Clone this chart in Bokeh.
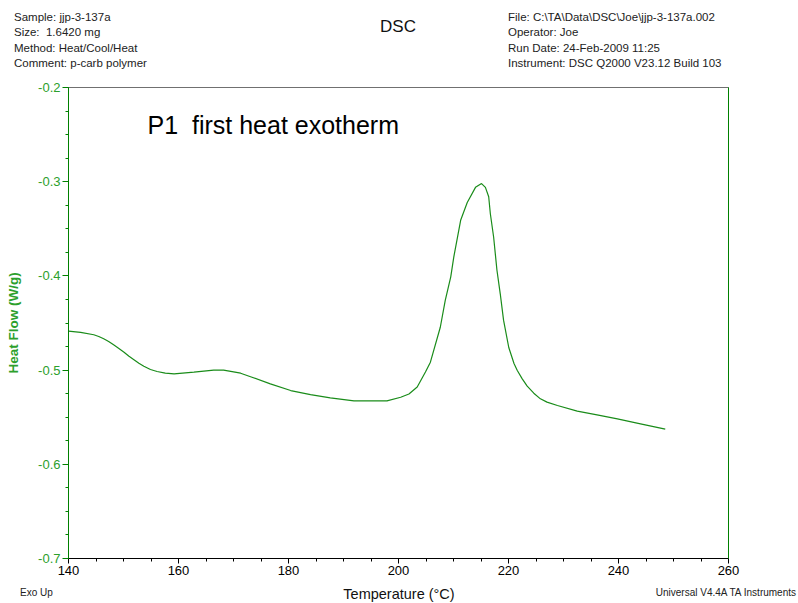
from bokeh.plotting import figure
from bokeh.models import (Range1d, LinearAxis, FixedTicker, PrintfTickFormatter, Label, Div)
from bokeh.layouts import column
from bokeh.embed import file_html
from bokeh.resources import INLINE

# ---- data ----
temperature = [140.0, 142.2, 144.6, 145.5, 146.4, 147.3, 148.2, 149.1, 150.1, 151.0,
               151.9, 152.8, 153.7, 154.9, 156.1, 157.6, 159.2, 162.8, 166.4, 168.2,
               171.3, 173.1, 176.7, 180.4, 184.0, 187.6, 191.9, 197.9, 200.4, 201.9,
               203.4, 204.9, 205.8, 207.6, 208.5, 209.5, 210.05, 211.3, 212.5, 214.0,
               215.1, 215.8, 216.4, 216.7, 217.3, 217.9, 218.5, 219.1, 220.05, 221.0,
               221.6, 222.5, 223.4, 224.6, 225.8, 227.0, 228.9, 232.5, 236.1, 239.8,
               244.0, 248.5]
heat_flow = [-0.4587, -0.4600, -0.4625, -0.4643, -0.4668, -0.4697, -0.4732, -0.4768, -0.4810, -0.4853,
             -0.4890, -0.4927, -0.4959, -0.4994, -0.5015, -0.5033, -0.5040, -0.5022, -0.5001, -0.5000,
             -0.5033, -0.5070, -0.5146, -0.5217, -0.5260, -0.5294, -0.5326, -0.5326, -0.5288, -0.5253,
             -0.5180, -0.5020, -0.4916, -0.4545, -0.4260, -0.4010, -0.3800, -0.3410, -0.3220, -0.3060,
             -0.3020, -0.3060, -0.3160, -0.3340, -0.3590, -0.3940, -0.4190, -0.4470, -0.4760, -0.4930,
             -0.5004, -0.5093, -0.5170, -0.5245, -0.5305, -0.5340, -0.5376, -0.5436, -0.5475, -0.5517,
             -0.5570, -0.5627]

x_major = [140, 160, 180, 200, 220, 240, 260]
x_minor = [140 + 5 * i for i in range(25)]
y_major = [-0.7, -0.6, -0.5, -0.4, -0.3, -0.2]
y_minor = [round(-0.7 + 0.025 * i, 3) for i in range(21)]

header_left = ["Sample: jjp-3-137a", "Size:&nbsp; 1.6420 mg", "Method: Heat/Cool/Heat",
               "Comment: p-carb polymer"]
header_right = ["File: C:\\TA\\Data\\DSC\\Joe\\jjp-3-137a.002", "Operator: Joe",
                "Run Date: 24-Feb-2009 11:25", "Instrument: DSC Q2000 V23.12 Build 103"]

FONT = "Liberation Sans"
GREEN = "#008000"
CURVE = "#1a8c1a"

# geometry (pixels)
W = 798
HEAD_H = 72
FOOT_H = 20
L, R = 68, 728
FRAME_TOP, FRAME_BOT = 87, 558
PLOT_H = 603 - HEAD_H - FOOT_H
X0, X1, Y0, Y1 = 140, 260, -0.7, -0.2

def sx(px):
    return X0 + (px - L) * (X1 - X0) / (R - L)

def sy(py):
    return Y1 - (py - FRAME_TOP) * (Y1 - Y0) / (FRAME_BOT - FRAME_TOP)

p = figure(width=W, height=PLOT_H, output_backend="svg", toolbar_location=None,
           x_range=Range1d(X0, X1), y_range=Range1d(Y0, Y1),
           min_border_left=L, min_border_right=W - R,
           min_border_top=FRAME_TOP - HEAD_H,
           min_border_bottom=(HEAD_H + PLOT_H) - FRAME_BOT,
           y_axis_label="Heat Flow (W/g)", margin=0)
p.outline_line_color = "#707070"
p.grid.visible = False
p.background_fill_color = "white"
p.border_fill_color = "white"

xa = p.xaxis[0]
xa.ticker = FixedTicker(ticks=x_major, minor_ticks=x_minor)
xa.axis_line_color = "black"
xa.major_tick_line_color = "black"
xa.minor_tick_line_color = "black"
xa.major_tick_out = 5
xa.major_tick_in = 0
xa.minor_tick_out = 3
xa.minor_tick_in = 0
xa.major_label_standoff = 2
xa.major_label_text_font = FONT
xa.major_label_text_font_size = "13px"
xa.major_label_text_color = "black"

ya = p.yaxis[0]
ya.ticker = FixedTicker(ticks=y_major, minor_ticks=y_minor)
ya.formatter = PrintfTickFormatter(format="%.1f")
ya.axis_line_color = GREEN
ya.major_tick_line_color = GREEN
ya.minor_tick_line_color = GREEN
ya.major_tick_out = 6
ya.major_tick_in = 0
ya.minor_tick_out = 3
ya.minor_tick_in = 0
ya.major_label_standoff = 2
ya.major_label_text_font = FONT
ya.major_label_text_font_size = "13px"
ya.major_label_text_color = "#2ca02c"
ya.axis_label_text_font = FONT
ya.axis_label_text_font_size = "13.5px"
ya.axis_label_text_font_style = "bold"
ya.axis_label_text_color = "#2ca02c"
ya.axis_label_standoff = 14

right = LinearAxis(ticker=FixedTicker(ticks=[]), axis_line_color=GREEN,
                   major_tick_line_color=None, minor_tick_line_color=None,
                   major_label_text_font_size="0px")
p.add_layout(right, "right")

p.line(temperature, heat_flow, line_color=CURVE, line_width=1.2)

p.add_layout(Label(x=sx(147), y=sy(124), text="P1\u00a0 first heat exotherm",
                   text_font=FONT, text_font_size="25px", text_align="left",
                   text_baseline="middle", text_color="black"))

# ---- header and footer texts ----
def span(left, center_y, text, size, extra=""):
    lh = 14
    return (f'<span style="position:absolute;left:{left}px;top:{center_y - lh / 2}px;'
            f'line-height:{lh}px;font-size:{size};white-space:nowrap;{extra}">{text}</span>')

line_y = [16.5, 32, 47.5, 62.5]
head_html = [f'<div style="position:relative;width:{W}px;height:{HEAD_H}px;'
             f'font-family:\'{FONT}\';color:#222;">']
for t, yy in zip(header_left, line_y):
    head_html.append(span(14, yy, t, "11.5px"))
for t, yy in zip(header_right, line_y):
    head_html.append(span(508, yy, t, "11.5px"))
head_html.append(f'<span style="position:absolute;left:0;width:{W - 2}px;top:17px;'
                 f'line-height:20px;font-size:17px;text-align:center;color:#111;">DSC</span>')
head_html.append('</div>')
header = Div(text="".join(head_html), width=W, height=HEAD_H, margin=0)

foot_top = HEAD_H + PLOT_H
foot_html = (f'<div style="position:relative;width:{W}px;height:{FOOT_H}px;'
             f'font-family:\'{FONT}\';color:#222;">'
             + span(20, 592.5 - foot_top, "Exo Up", "10px")
             + f'<span style="position:absolute;left:0;width:{W}px;top:{594 - foot_top - 9}px;'
               f'line-height:18px;font-size:14.5px;text-align:center;color:#111;">Temperature (°C)</span>'
             + f'<span style="position:absolute;right:2px;top:{592.5 - foot_top - 7}px;'
               f'line-height:14px;font-size:10px;white-space:nowrap;">Universal V4.4A TA Instruments</span>'
             + '</div>')
footer = Div(text=foot_html, width=W, height=FOOT_H, margin=0)

layout = column(header, p, footer, spacing=0, margin=0)

open("out.html", "w").write(file_html(layout, INLINE))
